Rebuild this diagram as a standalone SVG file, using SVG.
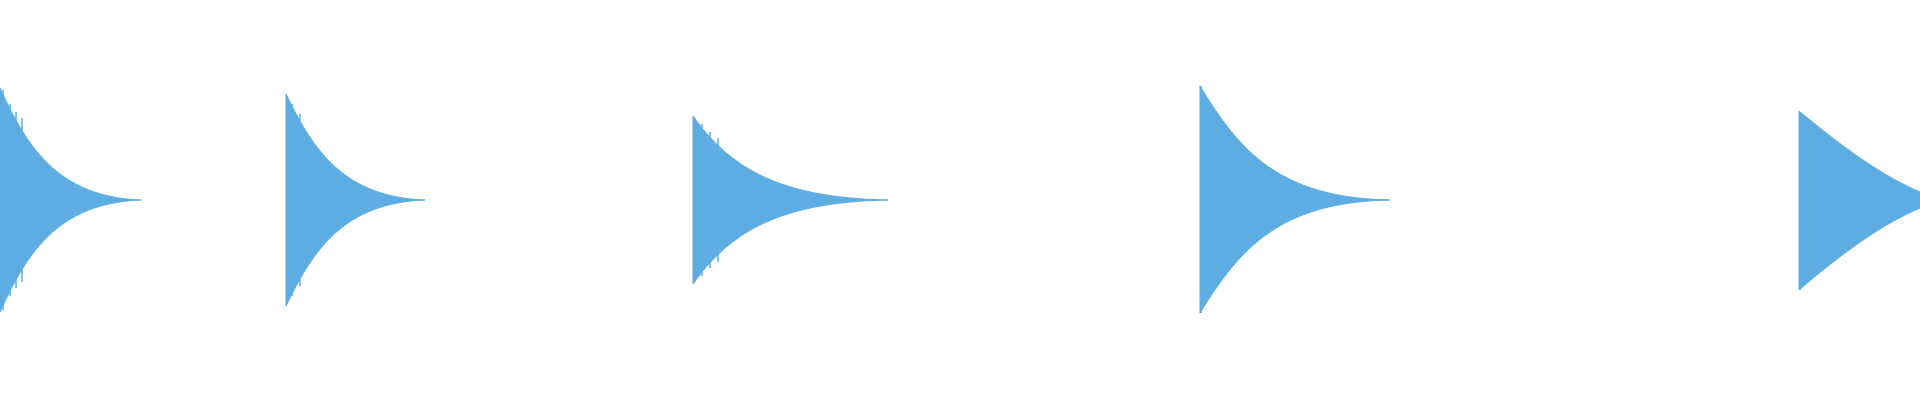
<svg xmlns="http://www.w3.org/2000/svg" width="1920" height="400" viewBox="0 0 1920 400">
<style>.w{fill:#5dade2;stroke:#5dade2;stroke-width:1}.s{stroke:#5dade2;stroke-width:1.5}</style>
<rect width="1920" height="400" fill="#fff"/>
<g id="burst1"><path class="w" d="M0,88 C28,150 60,197 141,200 C60,203 28,250 0,312 Z"/><path class="s" d="M3,90V310M10,104V296M16,112V288M22,118V282"/></g>
<g id="burst2"><path class="w" d="M286,94 C314,152 345,197 425,200 C345,203 314,248 286,306 Z"/><path class="s" d="M287,96V304M292,104V296M300,114V286"/></g>
<g id="burst3"><path class="w" d="M693,116 C728,165 775,198 888,200 C775,202 728,235 693,284 Z"/><path class="s" d="M695,118V282M702,124V276M710,132V268M718,138V262"/></g>
<g id="burst4"><path class="w" d="M1200,86 C1240,152 1280,198 1390,200 C1280,202 1240,248 1200,313 Z"/><path class="s" d="M1201,86V313M1206,104V296M1212,110V290"/></g>
<g id="burst5"><path class="w" d="M1799,111 C1840,145 1880,175 1920,192 L1920,208 C1880,225 1840,255 1799,290 Z"/><path class="s" d="M1800,112V290"/></g>
</svg>
